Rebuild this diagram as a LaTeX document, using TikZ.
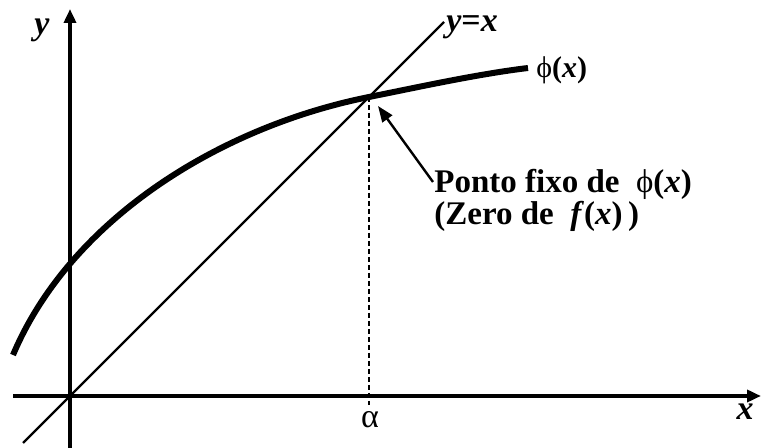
\documentclass[tikz,border=0pt]{standalone}
\usepackage{fontspec}
\setmainfont{Liberation Serif}
\usetikzlibrary{arrows.meta,positioning}
\newcommand{\uphi}{{\normalfont ϕ}}

\begin{document}
\begin{tikzpicture}[x=0.5pt,y=-0.5pt,
    axis/.style={line width=2pt,-{Triangle[length=7pt,width=6pt]}},
    lbl/.style={font=\fontsize{17}{17}\selectfont\bfseries\itshape,inner sep=0pt}]
        \useasboundingbox (0,0) rectangle (761,448);
        % Axes
        \coordinate (xs) at (13,396);
        \coordinate (xe) at (761,396);
        \coordinate (ys) at (70,448);
        \coordinate (ye) at (70,9);
        \draw[axis] (xs) -- (xe);
        \draw[axis] (ys) -- (ye);
        \node[lbl] (xl) at (745,412) {x};
        \node[lbl] (yl) at (42,30) {y};
        
        % Line y=x
        \coordinate (ls) at (23,443);
        \coordinate (le) at (444,22);
        \draw[line width=1.2pt] (ls) -- (le);
        \node[lbl,anchor=west] (lxl) at (446,27) {y{\upshape=}x};
        
        % Curve phi(x)
        \coordinate (cs) at (13,355);
        \coordinate (fix) at (369,97);
        \coordinate (ce) at (528,68);
        \draw[line width=3pt] (cs) .. controls (70,220) and (219,127) .. (fix)
            .. controls (419,87) and (478,74) .. (ce);
        \node[font=\fontsize{15}{15}\selectfont\bfseries,inner sep=0pt,anchor=west] (phil) at (536,70) {\uphi(\textit{x})};
        
        % Fixed point
        \coordinate (tick) at (369,405);
        \draw[line width=1.1pt,dash pattern=on 2.5pt off 1.5pt] (fix) -- (tick);
        \node[font=\fontsize{17}{17}\selectfont,inner sep=0pt] (al) at (370,420) {α};
        \node[font=\fontsize{16.5}{13.5}\selectfont\bfseries,align=left,anchor=north west,inner sep=0pt] (txt) at (434,169)
            {Ponto fixo de \ \uphi(\textit{x})\\(Zero de \ \textit{f}(\textit{x})\,)};
        \coordinate (ae) at (378,106);
        \draw[line width=1.2pt,-{Triangle[length=8pt,width=6pt]}] (txt.north west) ++(-1,13) -- (ae);
    \end{tikzpicture}
\end{document}
